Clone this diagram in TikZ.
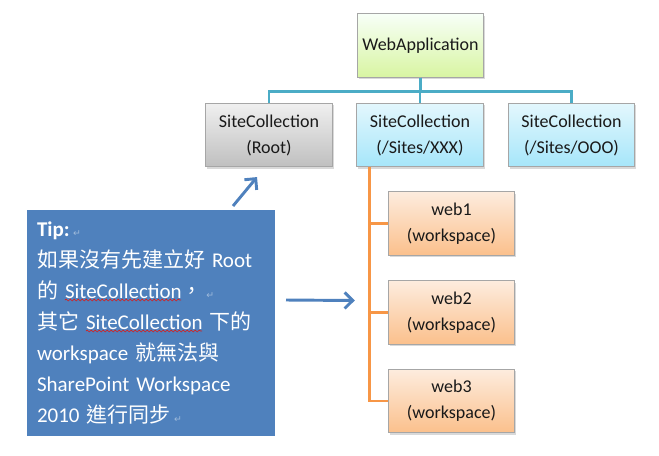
\documentclass[tikz,border=0pt]{standalone}
\usepackage{fontspec}
\setmainfont{Carlito}
\newfontfamily\cjk{Noto Sans CJK TC}
\newfontfamily\symfont{DejaVu Sans}
\usetikzlibrary{arrows.meta, positioning, shadows, decorations.pathmorphing}
\definecolor{busblue}{HTML}{4BACC6}
\definecolor{trunkorange}{HTML}{F79646}
\definecolor{tipblue}{HTML}{4F81BD}
\definecolor{spellred}{HTML}{D42020}
\newcommand{\pmark}{\,{\symfont\fontsize{7}{7}\selectfont\textcolor{tipblue!55!white}{↵}}}

\begin{document}
\begin{tikzpicture}[x=0.75pt, y=-0.75pt,
    box/.style={draw=gray!70, line width=0.6pt, minimum width=95pt, minimum height=47.5pt, align=center,
      font=\fontsize{13.5}{19.5}\selectfont, text=black!90,
      drop shadow={opacity=0.3, shadow xshift=1.2pt, shadow yshift=-1.5pt}},
    appbox/.style={box, top color=green!3!white, bottom color={rgb,255:red,216;green,245;blue,162}},
    rootbox/.style={box, top color=black!6, bottom color=black!25},
    sitebox/.style={box, top color={rgb,255:red,227;green,247;blue,253}, bottom color={rgb,255:red,166;green,230;blue,250}},
    webbox/.style={box, top color={rgb,255:red,253;green,236;blue,222}, bottom color={rgb,255:red,251;green,192;blue,140}},
    bus/.style={draw=busblue, line width=2.2pt},
    trunk/.style={draw=trunkorange, line width=2.2pt},
    tipbox/.style={fill=tipblue, draw=white, line width=3pt, text=white, align=left,
      text width=171pt, inner xsep=9pt, minimum height=172.5pt,
      font=\fontsize{15.75}{23.25}\selectfont,
      drop shadow={opacity=0.3, shadow xshift=1.5pt, shadow yshift=-1.5pt}},
    hint/.style={draw=tipblue, line width=2.2pt, -{Straight Barb[length=6pt, width=12pt]}},
    spell/.style={draw=spellred, line width=0.5pt, decorate, decoration={snake, amplitude=0.7pt, segment length=3pt}},
]
  \useasboundingbox (0,0) rectangle (659,455);

  \node[appbox] (webapp) at (420.5,45.5) {WebApplication};

  \node[rootbox] (root) at (269,135) {SiteCollection\\(Root)};
  \node[sitebox] (xxx) at (420,135) {SiteCollection\\(/Sites/XXX)};
  \node[sitebox] (ooo) at (571.5,135) {SiteCollection\\(/Sites/OOO)};

  \foreach \n/\y in {1/223.5, 2/312.5, 3/401} {
    \node[webbox] (web\n) at (451.5,\y) {web\n\\(workspace)};
  }

  \foreach \s in {root, xxx, ooo} {
    \draw[bus] (webapp.south) -- ++(0,14) -| (\s.north);
  }

  \coordinate (split) at ([shift={(13,0)}]xxx.south west);
  \foreach \n in {1,2,3} {
    \draw[trunk] (split) |- (web\n.west);
  }

  \node[tipbox] (tip) at (151,323) {\textbf{Tip:}\pmark\\
    {\cjk 如果沒有先建立好} Root\\
    {\cjk 的} SiteCollection{\cjk ，}\pmark\\
    {\cjk 其它} SiteCollection {\cjk 下的}\\
    workspace {\cjk 就無法與}\\
    SharePoint Workspace\\
    2010 {\cjk 進行同步}\pmark};

  \draw[spell] ([shift={(42,94)}]tip.north west) -- ++(116,0);
  \draw[spell] ([shift={(63,125)}]tip.north west) -- ++(116,0);

  \draw[hint] ([shift={(-46,0)}]tip.north east) -- ([shift={(-12,10)}]root.south);
  \draw[hint] ([shift={(7,-23)}]tip.east) -- ([shift={(-33,-12)}]web2.west);
\end{tikzpicture}
\end{document}
